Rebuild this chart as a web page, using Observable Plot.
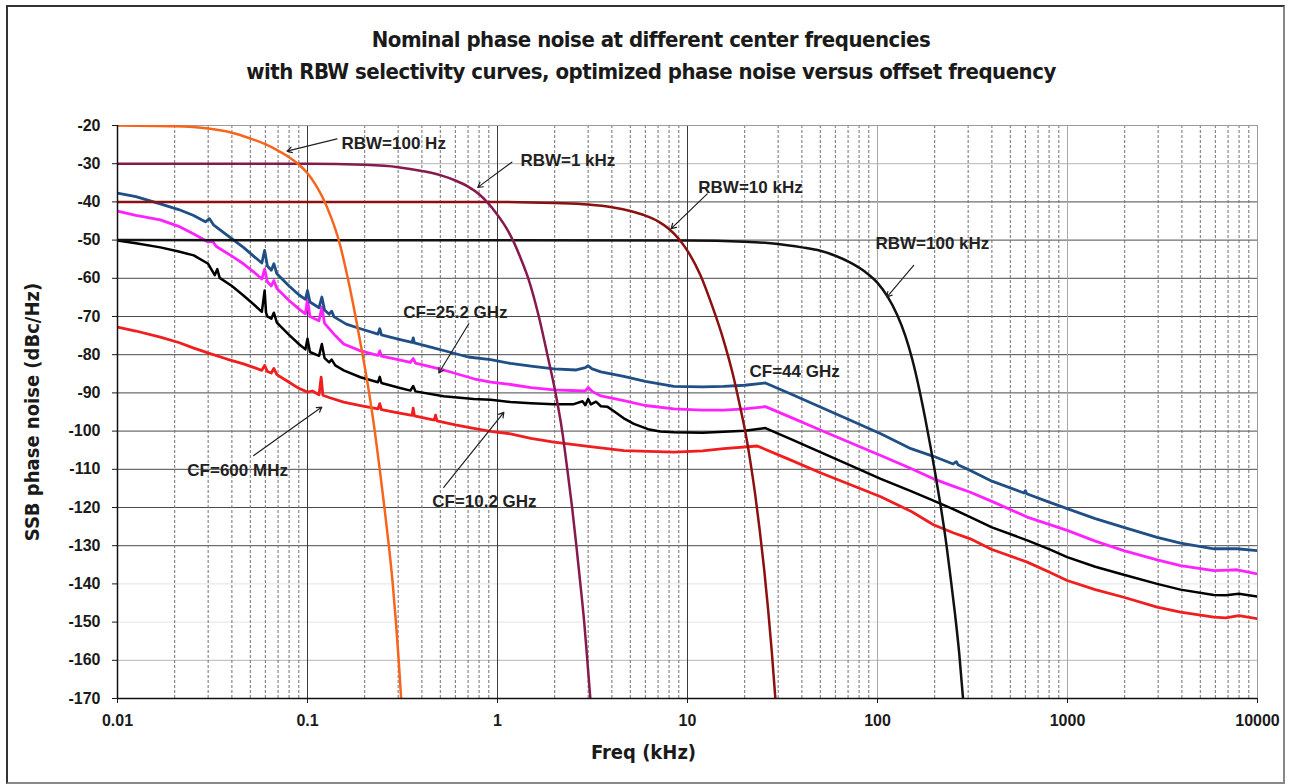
<!DOCTYPE html>
<html>
<head>
<meta charset="utf-8">
<script src="https://cdn.jsdelivr.net/npm/d3@7"></script>
<script src="https://cdn.jsdelivr.net/npm/@observablehq/plot@0.6"></script>
<style>
  body { margin:0; background:#fff; }
  #wrap { position:relative; width:1289px; height:784px; overflow:hidden; background:#fff; }
  #border { position:absolute; left:6px; top:5px; width:1275px; height:775px; border:2px solid #333; border-right-color:#888; border-bottom-color:#888; pointer-events:none; }
  #title { position:relative; height:95px; font-family:'Liberation Sans Narrow','DejaVu Sans Condensed','Arial Narrow',sans-serif; font-weight:bold; font-size:22px; letter-spacing:-0.5px; color:#1a1a1a; }
  #title div { position:absolute; left:0; width:1302px; text-align:center; line-height:28px; }
  #chart svg { display:block; }
</style>
</head>
<body>
<div id="wrap">
  <div id="title">
    <div style="top:26px">Nominal phase noise at different center frequencies</div>
    <div style="top:58px">with RBW selectivity curves, optimized phase noise versus offset frequency</div>
  </div>
  <div id="chart"></div>
  <div id="border"></div>
</div>
<script>
// ---- axis ticks ----
const xTicks = [0.01, 0.1, 1, 10, 100, 1000, 10000];
const xTickLabels = ["0.01", "0.1", "1", "10", "100", "1000", "10000"];
const yTicks = [-170, -160, -150, -140, -130, -120, -110, -100, -90, -80, -70, -60, -50, -40, -30, -20];
const yTickLabels = ["-170", "-160", "-150", "-140", "-130", "-120", "-110", "-100", "-90", "-80", "-70", "-60", "-50", "-40", "-30", "-20"];
const decadeStarts = [0.01, 0.1, 1, 10, 100, 1000];
const minorMultipliers = [2, 3, 4, 5, 6, 7, 8, 9];

// ---- RBW selectivity curves: [offset kHz, dB] ----
const rbw100Hz = [[0.01,-20],[0.02,-20.2],[0.03,-20.8],[0.04,-21.9],[0.05,-23.4],[0.06,-24.9],[0.07,-26.6],[0.08,-28.3],[0.09,-30.2],[0.1,-32.5],[0.11,-35.4],[0.12,-38.8],[0.133,-44],[0.146,-50],[0.163,-60],[0.179,-70],[0.195,-80],[0.211,-90],[0.226,-100],[0.24,-110],[0.254,-120],[0.268,-130],[0.281,-140],[0.292,-150],[0.302,-160],[0.311,-170]];
const rbw1kHz = [[0.01,-30],[0.1,-30],[0.2,-30.3],[0.3,-30.9],[0.4,-31.9],[0.5,-33],[0.6,-34.4],[0.7,-36],[0.8,-38],[0.88,-40],[1,-43.4],[1.1,-46.4],[1.22,-50.6],[1.34,-55.4],[1.46,-60.4],[1.65,-70],[1.83,-80],[2.02,-90],[2.19,-100],[2.33,-110],[2.47,-120],[2.6,-130],[2.73,-140],[2.86,-150],[2.97,-160],[3.08,-170]];
const rbw10kHz = [[0.01,-40],[1,-40],[2,-40.3],[3,-40.7],[4,-41.4],[5,-42.4],[6,-43.6],[7,-45.1],[8,-47.1],[9,-49.7],[10,-52.8],[11.7,-59.2],[13.5,-67.3],[15.5,-76.3],[17.3,-85],[18.9,-93.5],[20.3,-101],[21.5,-108.5],[22.7,-116.5],[24,-126],[25.3,-136],[26.6,-147],[27.8,-158],[29,-170]];
const rbw100kHz = [[0.01,-50],[10,-50.1],[20,-50.4],[30,-51],[40,-51.9],[50,-52.8],[60,-54.1],[72,-55.9],[86,-58.3],[100,-61.2],[113,-64.8],[127,-69.6],[140,-75],[152,-81],[165,-88.5],[178,-96.5],[190,-104],[202,-111.5],[214,-119],[228,-128],[242,-138],[256,-148],[269,-158],[282,-170]];

// ---- Phase noise curves: [offset kHz, dBc/Hz] ----
const cf44GHz = [[0.01,-37.7],[0.0125,-38.6],[0.0168,-40.5],[0.021,-42],[0.025,-43.5],[0.029,-45.2],[0.0305,-44.4],[0.032,-46],[0.038,-48.8],[0.046,-51.9],[0.052,-54.2],[0.0575,-56],[0.0595,-52.7],[0.0615,-56.8],[0.0645,-57.9],[0.0665,-56.2],[0.069,-58.8],[0.08,-62],[0.09,-64.3],[0.0975,-65.5],[0.1,-63.2],[0.103,-66.2],[0.115,-67.7],[0.119,-64.9],[0.123,-68.3],[0.13,-69.4],[0.134,-68.6],[0.138,-70.1],[0.16,-72],[0.19,-73.2],[0.235,-74.6],[0.24,-73.2],[0.245,-74.8],[0.3,-75.9],[0.355,-76.8],[0.36,-75.6],[0.365,-76.9],[0.45,-78.1],[0.52,-78.9],[0.7,-80.6],[0.92,-81.3],[1.17,-82.3],[1.5,-83],[1.98,-83.7],[2.6,-84],[2.9,-83.4],[3.0,-82.9],[3.15,-83.7],[3.5,-84.5],[4.62,-85.7],[6,-87],[8.48,-88.3],[12,-88.4],[15.5,-88.3],[20,-88],[25.7,-87.4],[35,-90.3],[50,-93.7],[70,-96.9],[104,-100.7],[150,-104.6],[197,-106.6],[250,-108.6],[260,-108],[265,-108.8],[308,-110.3],[400,-113.1],[590,-116.2],[600,-115.6],[610,-116.4],[800,-118.6],[996,-120.3],[1400,-122.9],[1977,-125.2],[2964,-127.8],[3935,-129.3],[5890,-130.8],[7820,-130.8],[10000,-131.3]];
const cf25GHz = [[0.01,-42.4],[0.0125,-43.5],[0.0168,-44.7],[0.021,-46.4],[0.0252,-48.4],[0.03,-50.5],[0.0315,-50.1],[0.033,-51.6],[0.04,-54.2],[0.046,-56.2],[0.052,-58.3],[0.0575,-60.2],[0.0595,-57.6],[0.0615,-60.9],[0.0645,-62],[0.0665,-60.6],[0.069,-62.7],[0.08,-65.8],[0.09,-68],[0.0975,-69.3],[0.1,-65.5],[0.103,-70],[0.115,-71.1],[0.119,-67.5],[0.123,-71.8],[0.14,-75],[0.155,-77.2],[0.19,-79],[0.235,-80.2],[0.24,-79],[0.245,-80.4],[0.3,-81.3],[0.348,-82],[0.36,-81],[0.37,-82.2],[0.52,-84],[0.75,-86.3],[0.92,-87.2],[1.17,-87.8],[1.5,-88.6],[1.98,-89.2],[2.9,-89.5],[3.0,-88.6],[3.15,-89.6],[3.5,-90.8],[4.62,-92],[6,-93.3],[8.48,-94.2],[12,-94.5],[15.5,-94.5],[20,-94.2],[25.7,-93.6],[35,-96.4],[50,-99.7],[70,-102.8],[104,-106.4],[150,-109.8],[197,-112.5],[250,-114.4],[308,-116],[400,-118.4],[614,-122.5],[800,-124.4],[996,-126],[1400,-128.8],[1977,-131.3],[2964,-133.7],[3935,-135.2],[5890,-136.5],[7000,-136.4],[7820,-136.3],[10000,-137.4]];
const cf10GHz = [[0.01,-50.1],[0.0125,-50.8],[0.0168,-51.9],[0.021,-53],[0.0252,-54],[0.03,-56.2],[0.0325,-59.2],[0.0335,-57.6],[0.0345,-59.9],[0.04,-62],[0.046,-64.5],[0.052,-66.8],[0.0575,-68.8],[0.0595,-63.2],[0.0605,-69],[0.0615,-70],[0.0645,-70.6],[0.0665,-69],[0.069,-71.6],[0.08,-74.8],[0.09,-77.2],[0.0975,-78.6],[0.1,-75.8],[0.103,-79.3],[0.115,-80.3],[0.119,-77.2],[0.123,-80.9],[0.13,-82],[0.134,-81.3],[0.14,-82.8],[0.155,-84.1],[0.19,-85.9],[0.235,-87.2],[0.24,-85.8],[0.245,-87.4],[0.3,-88.6],[0.348,-89.4],[0.36,-88.2],[0.37,-89.6],[0.52,-90.9],[0.75,-91.6],[0.92,-91.8],[1.17,-92.4],[1.5,-92.7],[1.98,-93],[2.5,-93],[2.8,-92.2],[2.9,-93.2],[3.0,-91.6],[3.1,-93],[3.3,-92.3],[3.5,-93.5],[3.78,-93.6],[4.1,-94.8],[4.6,-96.6],[5.22,-98.1],[6.2,-99.5],[7.2,-100.1],[8.48,-100.3],[12,-100.4],[15.5,-100.2],[20,-99.9],[25.7,-99.2],[35,-102.1],[50,-105.5],[70,-108.7],[104,-112.5],[150,-115.7],[197,-118.2],[250,-120.4],[308,-122.5],[400,-125.2],[614,-128.6],[800,-130.9],[996,-133],[1400,-135.5],[1977,-137.6],[2964,-140],[3935,-141.5],[5890,-142.9],[6800,-143],[7980,-142.6],[10000,-143.3]];
const cf600MHz = [[0.01,-72.8],[0.0125,-73.8],[0.0168,-75.4],[0.021,-76.8],[0.025,-78.2],[0.031,-79.8],[0.038,-81.2],[0.046,-82.4],[0.0575,-84.1],[0.0595,-82.8],[0.0615,-84.4],[0.0645,-84.8],[0.0665,-83.6],[0.069,-85.2],[0.08,-87.2],[0.09,-88.8],[0.1,-89.8],[0.106,-89.5],[0.115,-90.5],[0.118,-85.9],[0.1205,-90.6],[0.13,-91.2],[0.155,-92.4],[0.19,-93.3],[0.235,-94.2],[0.24,-92.8],[0.245,-94.4],[0.3,-95.2],[0.355,-95.9],[0.36,-94],[0.365,-96],[0.465,-97.1],[0.472,-95.8],[0.48,-97.3],[0.6,-98.4],[0.75,-99.3],[0.92,-100.1],[1.17,-100.7],[1.5,-101.9],[1.98,-102.9],[3,-104],[4.62,-105.1],[8.48,-105.5],[12,-105.2],[15.5,-104.6],[23.3,-103.9],[35,-107.6],[50,-110.9],[70,-113.8],[104,-117.2],[150,-121],[197,-124.5],[250,-126.6],[308,-128.2],[400,-131],[614,-134.3],[800,-136.9],[996,-139.1],[1400,-141.5],[1977,-143.5],[2964,-146.1],[3935,-147.4],[5890,-148.7],[6800,-148.9],[7980,-148.3],[10000,-149.1]];

// ---- annotations ----
const labelText = ["RBW=100 Hz", "RBW=1 kHz", "RBW=10 kHz", "RBW=100 kHz", "CF=25.2 GHz", "CF=44 GHz", "CF=600 MHz", "CF=10.2 GHz"];
const labelX = [0.151, 1.32, 11.4, 97.6, 0.319, 21.2, 0.0233, 0.453];
const labelY = [-24.7, -29.2, -36.2, -51, -68.9, -84.4, -110.3, -118.4];
const arrowFromX = [0.143, 1.19, 12.7, 155, 0.706, 0.0521, 0.521];
const arrowFromY = [-23.5, -29.6, -37.9, -56.6, -71.9, -106.4, -114.7];
const arrowToX = [0.078, 0.787, 8.2, 112, 0.491, 0.119, 1.08];
const arrowToY = [-26.7, -36.2, -47.0, -64.9, -84.8, -93.7, -95.1];

// ---- build tables ----
const minorX = decadeStarts.flatMap(d => minorMultipliers.map(m => +(d * m).toPrecision(6)));
const darkDecades = [0.1, 1, 10];
const lightDecades = [100, 1000];
const darkRows = yTicks.filter(v => v >= -130 && v <= -40);
const lightRows = [-30, -160];
const faintRows = [-140, -150];
const labels = labelText.map((t, i) => ({t, x: labelX[i], y: labelY[i]}));
const arrows = arrowFromX.map((x1, i) => ({x1, y1: arrowFromY[i], x2: arrowToX[i], y2: arrowToY[i]}));

const lineOpt = (stroke, w, curve) => ({x: d => d[0], y: d => d[1], stroke, strokeWidth: w, curve, clip: true});
const narrow = "'Liberation Sans Narrow','DejaVu Sans Condensed','Arial Narrow',sans-serif";

const chart = Plot.plot({
  width: 1289, height: 689,
  marginLeft: 117, marginRight: 32, marginTop: 30, marginBottom: 86,
  x: {type: "log", domain: [0.01, 10000]},
  y: {domain: [-170, -20]},
  style: {fontFamily: "'Liberation Sans', Arial, sans-serif", fontSize: "16px", fontWeight: "bold", color: "#1a1a1a", background: "transparent", overflow: "visible"},
  marks: [
    Plot.ruleY(faintRows, {stroke: "#e4e4e4", strokeWidth: 1}),
    Plot.ruleY(lightRows, {stroke: "#b5b5b5", strokeWidth: 1}),
    Plot.ruleY(darkRows, {stroke: "#4a4a4a", strokeWidth: 1}),
    Plot.ruleX(minorX, {stroke: "#707070", strokeWidth: 1, strokeDasharray: "3,2"}),
    Plot.ruleX(lightDecades, {stroke: "#a8a8a8", strokeWidth: 1}),
    Plot.ruleX(darkDecades, {stroke: "#3a3a3a", strokeWidth: 1}),
    Plot.frame({stroke: "#9a9a9a"}),
    Plot.line(cf600MHz, lineOpt("#f01e1e", 2.8, "linear")),
    Plot.line(cf10GHz, lineOpt("#000000", 2.5, "linear")),
    Plot.line(cf25GHz, lineOpt("#ff22ff", 2.8, "linear")),
    Plot.line(cf44GHz, lineOpt("#1f4f85", 2.8, "linear")),
    Plot.line(rbw100kHz, lineOpt("#111111", 2.5, "monotone-x")),
    Plot.line(rbw10kHz, lineOpt("#8b1010", 2.5, "monotone-x")),
    Plot.line(rbw1kHz, lineOpt("#86194d", 2.5, "monotone-x")),
    Plot.line(rbw100Hz, lineOpt("#f7651c", 2.5, "monotone-x")),
    Plot.ruleX([0.01], {stroke: "#111", strokeWidth: 1.5}),
    Plot.ruleY([-170], {stroke: "#111", strokeWidth: 1.5}),
    Plot.axisX({ticks: xTicks, tickFormat: d => xTickLabels[xTicks.indexOf(d)], tickSize: 5, tickPadding: 11, label: null, fontSize: 16, fontWeight: "bold"}),
    Plot.axisY({ticks: yTicks, tickFormat: d => yTickLabels[yTicks.indexOf(d)], tickSize: 5, tickPadding: 12, label: null, fontSize: 16, fontWeight: "bold"}),
    Plot.arrow(arrows, {x1: "x1", y1: "y1", x2: "x2", y2: "y2", stroke: "#222", strokeWidth: 1.2, headLength: 7}),
    Plot.text(labels, {x: "x", y: "y", text: "t", textAnchor: "start", fontSize: 17, fontWeight: "bold", fill: "#222"}),
    Plot.text(["SSB phase noise (dBc/Hz)"], {text: d => d, frameAnchor: "left", textAnchor: "middle", lineAnchor: "middle", dx: -85, rotate: -90, fontSize: 20, fontWeight: "bold", fontFamily: narrow, fill: "#1a1a1a"}),
    Plot.text(["Freq (kHz)"], {text: d => d, frameAnchor: "bottom", textAnchor: "middle", lineAnchor: "middle", dx: -44, dy: 54, fontSize: 20, fontWeight: "bold", fontFamily: narrow, fill: "#1a1a1a"})
  ]
});
document.getElementById("chart").appendChild(chart);
</script>
</body>
</html>
